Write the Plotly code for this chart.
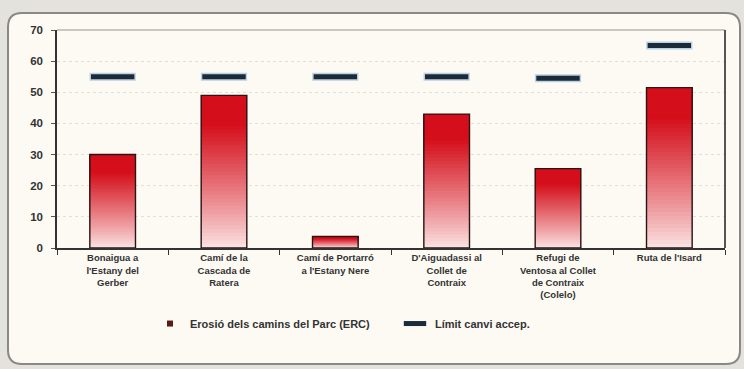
import plotly.graph_objects as go

categories = [
    "Bonaigua a<br>l'Estany del<br>Gerber",
    "Camí de la<br>Cascada de<br>Ratera",
    "Camí de Portarró<br>a l'Estany Nere",
    "D'Aiguadassi al<br>Collet de<br>Contraix",
    "Refugi de<br>Ventosa al Collet<br>de Contraix<br>(Colelo)",
    "Ruta de l'Isard",
]
erosion = [30, 49, 3.7, 43, 25.5, 51.5]
limit = [55, 55, 55, 55, 54.5, 65]
yticks = [0, 10, 20, 30, 40, 50, 60, 70]

W, H = 744, 369
L, R, T, B = 57, 19, 30, 121
pw, ph = W - L - R, H - T - B

def px2paper(x, y):
    return (x - L) / pw, (H - B - y) / ph

fig = go.Figure()

# gradient bars: overlapping slices from each slice's base up to the value
N = 40
top = (212, 14, 26)
bot = (252, 230, 230)
for i in range(N):
    f = (i + 0.5) / N  # 0 bottom -> 1 top
    t = min(1.0, f ** 0.9 * 1.2)
    c = tuple(int(bot[k] + (top[k] - bot[k]) * t) for k in range(3))
    fig.add_trace(go.Bar(
        x=categories,
        y=[v * (N - i) / N for v in erosion],
        base=[v * i / N for v in erosion],
        marker=dict(color="rgb(%d,%d,%d)" % c, line=dict(width=0)),
        width=0.41, showlegend=False, hoverinfo="skip",
    ))
# outline
fig.add_trace(go.Bar(
    x=categories, y=erosion, width=0.41,
    marker=dict(color="rgba(0,0,0,0)", line=dict(color="#2a1414", width=1.4)),
    showlegend=False, hoverinfo="skip",
))
# legend entries
fig.add_trace(go.Scatter(
    x=[None], y=[None], mode="markers", name="Erosió dels camins del Parc (ERC)",
    marker=dict(symbol="square", size=6, color="#5a1a1a"),
))
# limit shadow + limit marks
fig.add_trace(go.Scatter(
    x=categories, y=limit, mode="markers", showlegend=False, hoverinfo="skip",
    marker=dict(symbol="line-ew", size=33, line=dict(width=8, color="#b9d2e4")),
))
fig.add_trace(go.Scatter(
    x=categories, y=limit, mode="markers", name="Límit canvi accep.",
    marker=dict(symbol="line-ew", size=31, line=dict(width=5, color="#1c2b3a")),
))

# outer rounded frame
x0, y0, x1, y1, r = 8, 13, 740, 364, 14
def P(x, y):
    a, b = px2paper(x, y)
    return "%.5f,%.5f" % (a, b)
path = ("M " + P(x0 + r, y0) + " L " + P(x1 - r, y0) + " Q " + P(x1, y0) + " " + P(x1, y0 + r) +
        " L " + P(x1, y1 - r) + " Q " + P(x1, y1) + " " + P(x1 - r, y1) +
        " L " + P(x0 + r, y1) + " Q " + P(x0, y1) + " " + P(x0, y1 - r) +
        " L " + P(x0, y0 + r) + " Q " + P(x0, y0) + " " + P(x0 + r, y0) + " Z")
shapes = [
    dict(type="path", xref="paper", yref="paper", path=path,
         line=dict(color="#8a8884", width=2), fillcolor="#fcfaf3", layer="below"),
    dict(type="line", xref="paper", yref="paper", x0=0, x1=1, y0=1, y1=1,
         line=dict(color="#b8b6b0", width=1.5)),
    dict(type="line", xref="paper", yref="paper", x0=1, x1=1, y0=0, y1=1,
         line=dict(color="#555555", width=2)),
]

lx, _ = px2paper(150, 0)
fig.update_layout(
    width=W, height=H,
    margin=dict(l=L, r=R, t=T, b=B, autoexpand=False),
    paper_bgcolor="#e4e2dc",
    plot_bgcolor="#fcfaf3",
    barmode="overlay",
    shapes=shapes,
    font=dict(family="Liberation Sans, Arial", color="#333333"),
    showlegend=True,
    legend=dict(orientation="h", x=lx, xanchor="left", y=-0.28, yanchor="top",
                font=dict(size=11, color="#333333", family="Liberation Sans, Arial", weight="bold"),
                bgcolor="rgba(0,0,0,0)", itemwidth=30, traceorder="normal",
                entrywidth=200, entrywidthmode="pixels"),
    xaxis=dict(showline=True, linecolor="#333333", linewidth=1.5,
               ticks="outside", ticklen=5, tickcolor="#333333", tickson="boundaries",
               tickfont=dict(size=9.5, color="#333333", family="Liberation Sans, Arial", weight="bold"),
               showgrid=False, tickangle=0),
    yaxis=dict(range=[0, 70], tickvals=yticks, showline=True, linecolor="#333333",
               linewidth=1.5, ticks="outside", ticklen=4, tickcolor="#555555",
               ticklabelstandoff=6,
               tickfont=dict(size=11.5, color="#333333", family="Liberation Sans, Arial", weight="bold"),
               showgrid=True, gridcolor="#e2e0da", griddash="dot", zeroline=False),
)
fig.write_html("out.html", config={"displayModeBar": False},
               post_script="document.body.style.margin='0px';")
